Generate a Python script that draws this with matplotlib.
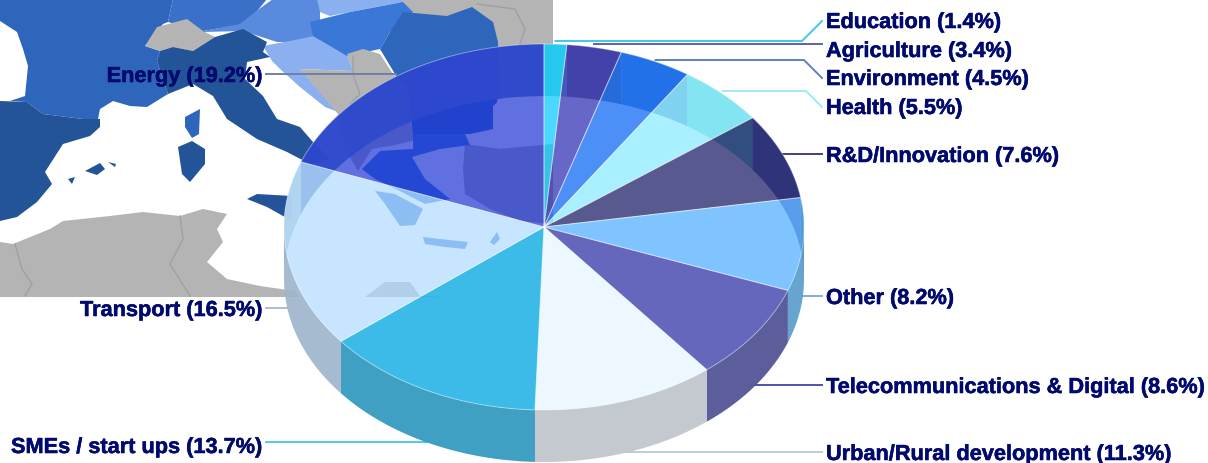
import numpy as np
import matplotlib
matplotlib.use("Agg")
import matplotlib.pyplot as plt
from matplotlib.colors import to_rgb
import matplotlib.patheffects as pe

categories = ["Education", "Agriculture", "Environment", "Health", "R&D/Innovation", "Other",
              "Telecommunications & Digital", "Urban/Rural development", "SMEs / start ups",
              "Transport", "Energy"]
shares = [1.4, 3.4, 4.5, 5.5, 7.6, 8.2, 8.6, 11.3, 13.7, 16.5, 19.2]

top_colors = ["#38d8ff", "#6868c8", "#4090f8", "#a8f0ff", "#585a90", "#80c4ff",
              "#6468bc", "#ecf8ff", "#3cbcea", "#c8e6ff", "#6070e0"]
top_alphas = [0.7, 0.7, 0.7, 0.7, 0.7, 0.7, 0.7, 0.7, 0.85, 0.7, 0.7]
front_colors = ["#40a0c4", "#5c5e9c", "#40a0c4", "#a8bcd0", "#5c5e9c", "#68a4d0",
                "#5c5e9c", "#c4cad0", "#40a0c4", "#a8bcd0", "#5c5e9c"]
back_colors = [(122, 202, 205), (122, 122, 148), (108, 148, 202), (122, 215, 205), (108, 115, 176),
               (69, 109, 125), (92, 94, 156), (196, 202, 208), (64, 160, 196), (175, 195, 205),
               (90, 125, 190)]
line_colors = ["#40c8e8", "#6060a8", "#6080c0", "#a0eaf8", "#404080", "#80b0d0",
               "#5050b0", "#c0ccd8", "#50c8f0", "#b0bcd0", "#7080a8"]
label_y = [22, 51, 79, 108, 156, 298, 387, 454, 447, 310, 76]
line_y = [42, 45, 61, 92, 155, 297, 386, 453, 443, 309, 75]

CX, CY, RX, RY, DEPTH = 544, 228, 260, 183, 52
NAVY = "#000a6e"

FRANCE = "#2e66bc"
DARK = "#245498"
MID = "#3a78d8"
LIGHT = "#5a8ade"
PALE = "#8ab0f0"
GREY = "#b4b4b4"

# background map, traced by hand in pixels
map_shapes = [
    (GREY, [(400, 0), (553, 0), (553, 100), (400, 100)]),
    (FRANCE, [(0, 0), (173, 0), (168, 23), (163, 25), (145, 47), (160, 52), (157, 62), (168, 95),
              (147, 108), (130, 107), (113, 102), (100, 110), (98, 120), (83, 120), (43, 115), (27, 103),
              (10, 102), (25, 97), (28, 67), (23, 50), (17, 33), (0, 22)]),
    (DARK, [(0, 102), (27, 103), (43, 115), (83, 120), (100, 120), (100, 128), (90, 137), (63, 145),
            (45, 173), (52, 185), (37, 203), (17, 218), (0, 222)]),
    ("#3a70c8", [(173, 0), (267, 0), (253, 17), (257, 23), (203, 32), (168, 23)]),
    (GREY, [(145, 47), (157, 28), (187, 20), (203, 32), (215, 38), (193, 52), (173, 48), (160, 52)]),
    (LIGHT, [(203, 32), (240, 25), (255, 13), (273, 0), (320, 0), (320, 43), (277, 43), (243, 32), (203, 33)]),
    (PALE, [(263, 47), (300, 40), (313, 37), (347, 55), (353, 72), (300, 70), (338, 113), (325, 108),
            (300, 88), (280, 70), (272, 62)]),
    (DARK, [(157, 62), (160, 52), (173, 48), (193, 52), (215, 38), (243, 30), (267, 43), (263, 53), (270, 58),
            (247, 63), (245, 80), (263, 97), (277, 120), (300, 128), (313, 143), (330, 160), (310, 165),
            (287, 153), (257, 140), (227, 120), (213, 97), (193, 85), (168, 95)]),
    (DARK, [(247, 200), (257, 195), (292, 197), (292, 222), (267, 208)]),
    (LIGHT, [(280, 0), (317, 0), (320, 13), (310, 23), (313, 37), (280, 43)]),
    (PALE, [(317, 0), (400, 0), (403, 3), (350, 13), (330, 17), (320, 13)]),
    (MID, [(310, 23), (350, 13), (403, 3), (413, 13), (390, 33), (380, 50), (347, 57), (313, 37)]),
    (FRANCE, [(403, 13), (447, 17), (472, 8), (493, 23), (498, 43), (500, 97), (400, 87), (395, 75), (380, 50), (390, 33)]),
    (GREY, [(300, 70), (353, 72), (347, 55), (363, 50), (380, 55), (393, 75), (410, 90), (420, 140),
            (395, 146), (372, 150), (358, 172), (345, 150), (338, 115)]),
    (FRANCE, [(408, 87), (500, 90), (493, 120), (493, 130), (470, 135), (413, 135)]),
    ("#ffffff", [(493, 107), (503, 98), (553, 97), (553, 143), (513, 140), (493, 120)]),
    (GREY, [(465, 145), (500, 150), (553, 145), (553, 225), (520, 222), (490, 210), (465, 195), (463, 170)]),
    (MID, [(362, 170), (380, 152), (413, 150), (413, 135), (465, 135), (470, 146), (440, 150), (412, 158),
           (425, 180), (450, 200), (425, 205), (400, 192), (375, 180)]),
    (MID, [(375, 192), (395, 195), (423, 210), (415, 226), (400, 227), (385, 205)]),
    (MID, [(423, 238), (440, 240), (468, 243), (465, 250), (445, 248), (425, 245)]),
    (MID, [(490, 243), (497, 233), (500, 240), (494, 246)]),
    (GREY, [(0, 243), (13, 245), (50, 230), (63, 222), (110, 217), (143, 213), (180, 217), (203, 210), (227, 215),
            (217, 230), (223, 243), (207, 263), (227, 280), (260, 287), (295, 292), (300, 298), (0, 298)]),
    (GREY, [(365, 298), (385, 283), (410, 283), (420, 297), (445, 298)]),
    (FRANCE, [(185, 118), (200, 110), (199, 135), (192, 139), (185, 128)]),
    (DARK, [(178, 148), (192, 142), (205, 150), (205, 165), (190, 183), (182, 175)]),
    (DARK, [(85, 172), (100, 164), (105, 170), (97, 176)]),
    (DARK, [(108, 163), (116, 165), (115, 168)]),
    (DARK, [(68, 180), (75, 178), (72, 185)]),
]
border_lines = [
    [(15, 245), (22, 270), (32, 285), (25, 297)],
    [(180, 217), (183, 240), (170, 265), (190, 297)],
    [(477, 5), (515, 10), (525, 30), (520, 45)],
    [(353, 57), (353, 75), (360, 95), (350, 105)],
]


def rim(theta, drop=0):
    return CX + RX * np.sin(theta), CY + drop - RY * np.cos(theta)


def wall(ax, a, b, color, alpha, z):
    th = np.linspace(a, b, 60)
    x, y = rim(th)
    x2, y2 = rim(th[::-1], DEPTH)
    ax.fill(np.r_[x, x2], np.r_[y, y2], color=color, alpha=alpha, lw=0, zorder=z)


def over_white(color, alpha):
    # colour that looks like `color` once laid over white with this alpha
    return tuple(np.clip((np.array(to_rgb(color)) - (1 - alpha)) / alpha, 0, 1))


fig = plt.figure(figsize=(12.08, 4.64), dpi=100)
ax = fig.add_axes([0, 0, 1, 1])
ax.set_xlim(0, 1208)
ax.set_ylim(464, 0)
ax.axis("off")

for color, pts in map_shapes:
    pts = np.array(pts)
    ax.fill(pts[:, 0], pts[:, 1], color=color, lw=0, zorder=1)
for pts in border_lines:
    pts = np.array(pts)
    ax.plot(pts[:, 0], pts[:, 1], color="#a0a0a0", lw=1, zorder=1)

edges = np.r_[0, np.cumsum(shares)] / sum(shares) * 2 * np.pi
mids = (edges[:-1] + edges[1:]) / 2
half = np.pi / 2

# back walls first, they show through the top face
for i in range(len(shares)):
    a, b = edges[i], edges[i + 1]
    back = tuple(c / 255 for c in back_colors[i])
    if a < half:
        wall(ax, a, min(b, half), back, 0.92, 3)
    if b > 3 * half:
        wall(ax, max(a, 3 * half), b, back, 0.92, 3)

for i in range(len(shares)):
    a, b = edges[i], edges[i + 1]
    if b > half and a < 3 * half:
        wall(ax, max(a, half), min(b, 3 * half), over_white(front_colors[i], 0.92), 0.92, 4)

for i in range(len(shares)):
    th = np.linspace(edges[i], edges[i + 1], 80)
    x, y = rim(th)
    ax.fill(np.r_[CX, x], np.r_[CY, y], color=over_white(top_colors[i], top_alphas[i]),
            alpha=top_alphas[i], lw=0, zorder=5)
    ax.plot(np.r_[CX, x, CX], np.r_[CY, y, CY], color="white", alpha=0.4, lw=0.7, zorder=6)

# leader lines and labels
stroke = [pe.withStroke(linewidth=0.4, foreground=NAVY)]
for i, name in enumerate(categories):
    text = f"{name} ({shares[i]}%)"
    ax_x = rim(mids[i])[0]
    y = line_y[i]
    if name in ("SMEs / start ups", "Transport", "Energy"):
        ax.plot([ax_x, 266], [y, y], color=line_colors[i], lw=1.4, zorder=2)
        ax.text(263, label_y[i] + 1.5, text, ha="right", va="center", color=NAVY, path_effects=stroke,
                fontsize=15.65, fontweight="bold", family="Liberation Sans", zorder=8)
    else:
        dy = label_y[i] - y
        if abs(dy) > 8:
            xs = [ax_x, 822 - abs(dy), 822]
            ys = [y, y, label_y[i]]
        else:
            xs, ys = [ax_x, 822], [y, y]
        ax.plot(xs, ys, color=line_colors[i], lw=1.4, zorder=2)
        ax.text(826, label_y[i] + 1.5, text, ha="left", va="center", color=NAVY, path_effects=stroke,
                fontsize=15.65, fontweight="bold", family="Liberation Sans", zorder=8)

fig.savefig("out.png", dpi=100)
